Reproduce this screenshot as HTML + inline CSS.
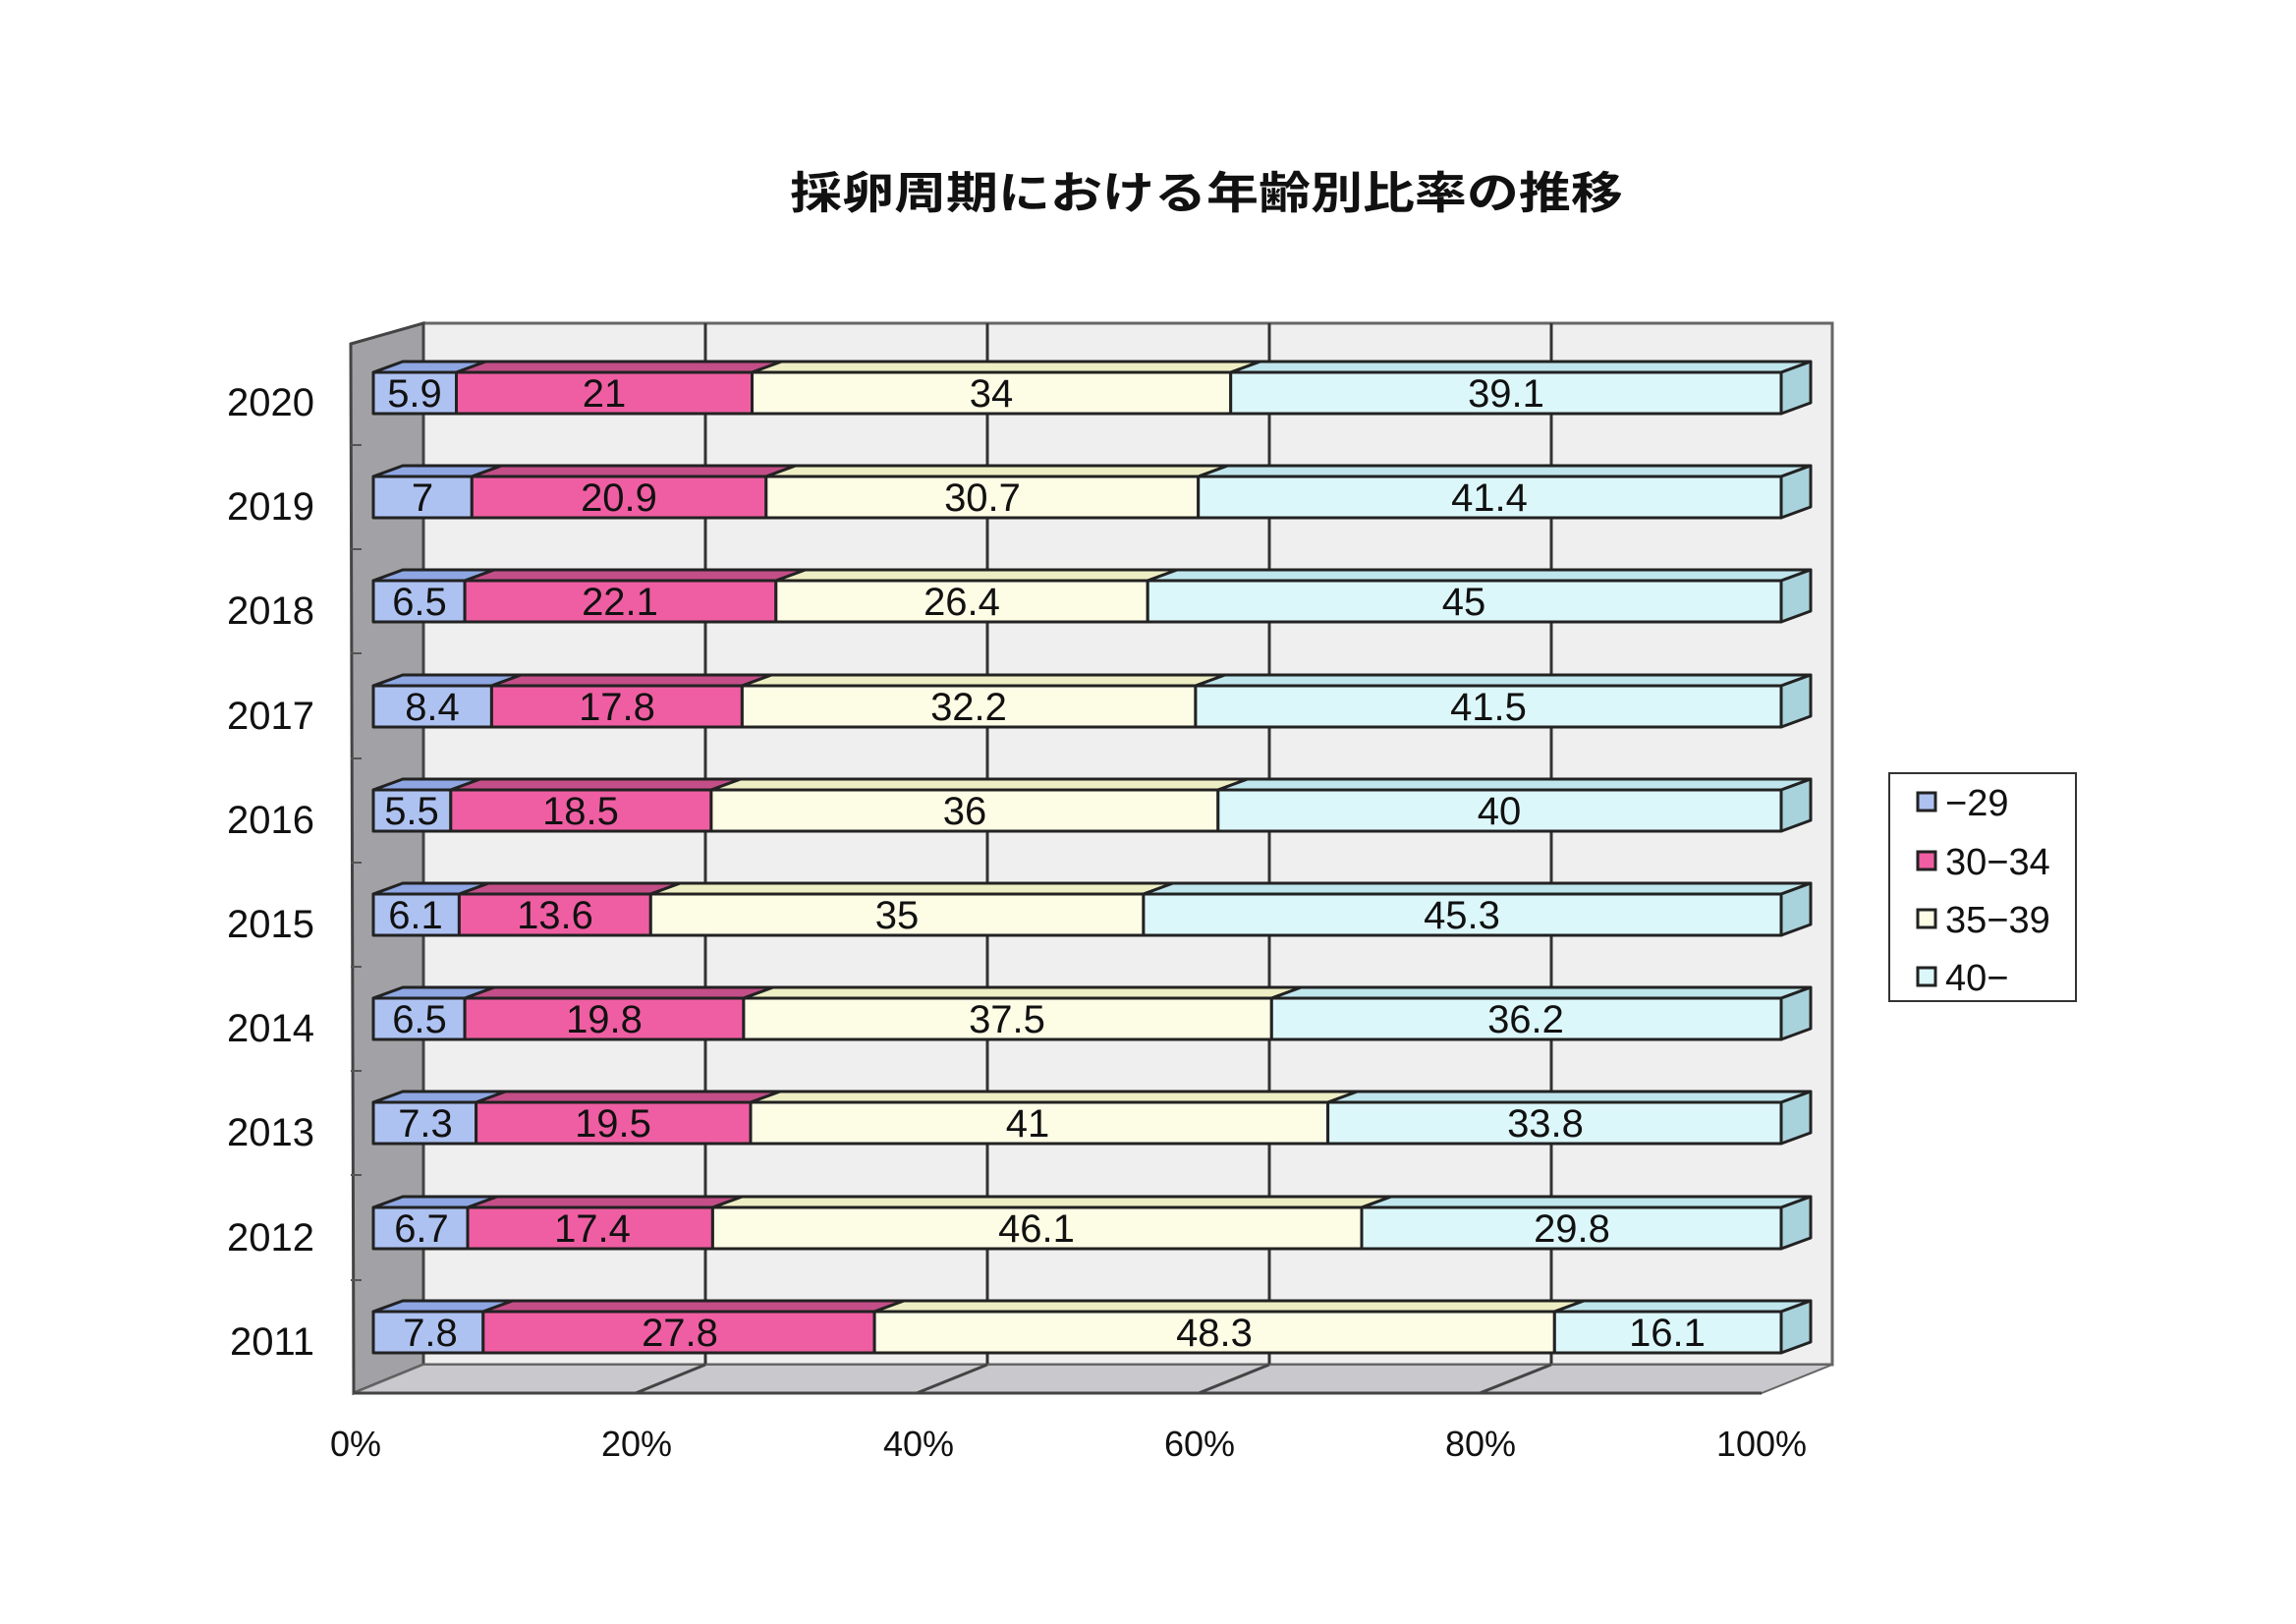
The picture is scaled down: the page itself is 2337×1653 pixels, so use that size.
<!DOCTYPE html>
<html><head><meta charset="utf-8"><style>
html,body{margin:0;padding:0;background:#fff;}
svg{display:block;}
text{font-family:"Liberation Sans","Noto Sans CJK JP",sans-serif;fill:#111;}
.v{font-size:40px;text-anchor:middle;}
.y{font-size:40px;text-anchor:end;}
.t{font-size:36px;text-anchor:middle;}
.s{stroke:#222;stroke-width:3;stroke-linejoin:round;}
.b{fill:#aec2f2}.bt{fill:#8ea6e2}
.p{fill:#ef5ea2}.pt{fill:#c44e88}
.c{fill:#fdfde6}.ct{fill:#eeeec4}
.q{fill:#dcf7fa}.qt{fill:#bfe6ec}.qe{fill:#a9d3dc}
</style></head><body>
<svg width="2337" height="1653" viewBox="0 0 2337 1653" xmlns="http://www.w3.org/2000/svg">
<rect width="2337" height="1653" fill="#fff"/>
<text x="1228" y="212" style="font-size:53px;font-weight:bold;text-anchor:middle;font-family:'Noto Sans CJK JP','Liberation Sans',sans-serif" transform="translate(0,32) scale(1,0.85)">採卵周期における年齢別比率の推移</text>
<!-- back wall -->
<rect x="431" y="329" width="1434" height="1060" fill="#efefef" stroke="#666" stroke-width="3"/>
<g stroke="#333" stroke-width="3">
<line x1="718" y1="329" x2="718" y2="1389"/><line x1="1005" y1="329" x2="1005" y2="1389"/>
<line x1="1292" y1="329" x2="1292" y2="1389"/><line x1="1579" y1="329" x2="1579" y2="1389"/>
</g>
<!-- side wall -->
<polygon points="357,350 431,329 431,1389 360,1418" fill="#a2a2a6" stroke="#444" stroke-width="3"/>
<!-- floor -->
<polygon points="360,1418 431,1389 1865,1389 1793,1418" fill="#c9c9cd" stroke="#666" stroke-width="2"/>
<g stroke="#444" stroke-width="3">
<line x1="647" y1="1418" x2="718" y2="1389"/><line x1="933" y1="1418" x2="1005" y2="1389"/>
<line x1="1220" y1="1418" x2="1292" y2="1389"/><line x1="1506" y1="1418" x2="1579" y2="1389"/>
<line x1="360" y1="1418" x2="1793" y2="1418"/>
</g>
<g stroke="#555" stroke-width="2">
<line x1="357" y1="453" x2="368" y2="453"/><line x1="357" y1="559" x2="368" y2="559"/><line x1="357" y1="665" x2="368" y2="665"/><line x1="357" y1="772" x2="368" y2="772"/><line x1="357" y1="878" x2="368" y2="878"/><line x1="357" y1="984" x2="368" y2="984"/><line x1="357" y1="1090" x2="368" y2="1090"/><line x1="357" y1="1196" x2="368" y2="1196"/><line x1="357" y1="1303" x2="368" y2="1303"/>
</g>

<g transform="translate(0,400)">
<polygon class="s bt" points="380,-21 410,-32 494.5,-32 464.5,-21"/><polygon class="s pt" points="464.5,-21 494.5,-32 795.5,-32 765.5,-21"/><polygon class="s ct" points="765.5,-21 795.5,-32 1282.7,-32 1252.7,-21"/><polygon class="s qt" points="1252.7,-21 1282.7,-32 1843,-32 1813,-21"/>
<rect class="s b" x="380" y="-21" width="84.5" height="42"/><rect class="s p" x="464.5" y="-21" width="301" height="42"/><rect class="s c" x="765.5" y="-21" width="487.2" height="42"/><rect class="s q" x="1252.7" y="-21" width="560.3" height="42"/>
<polygon class="s qe" points="1813,-21 1843,-32 1843,10 1813,21"/>
<text class="v" x="422" y="14">5.9</text><text class="v" x="615" y="14">21</text><text class="v" x="1009" y="14">34</text><text class="v" x="1533" y="14">39.1</text>
<text class="y" x="320" y="23">2020</text></g>

<g transform="translate(0,506)">
<polygon class="s bt" points="380,-21 410,-32 510.3,-32 480.3,-21"/><polygon class="s pt" points="480.3,-21 510.3,-32 809.8,-32 779.8,-21"/><polygon class="s ct" points="779.8,-21 809.8,-32 1249.7,-32 1219.7,-21"/><polygon class="s qt" points="1219.7,-21 1249.7,-32 1843,-32 1813,-21"/>
<rect class="s b" x="380" y="-21" width="100.3" height="42"/><rect class="s p" x="480.3" y="-21" width="299.5" height="42"/><rect class="s c" x="779.8" y="-21" width="439.9" height="42"/><rect class="s q" x="1219.7" y="-21" width="593.3" height="42"/>
<polygon class="s qe" points="1813,-21 1843,-32 1843,10 1813,21"/>
<text class="v" x="430" y="14">7</text><text class="v" x="630" y="14">20.9</text><text class="v" x="1000" y="14">30.7</text><text class="v" x="1516" y="14">41.4</text>
<text class="y" x="320" y="23">2019</text></g>

<g transform="translate(0,612)">
<polygon class="s bt" points="380,-21 410,-32 503.1,-32 473.1,-21"/><polygon class="s pt" points="473.1,-21 503.1,-32 819.8,-32 789.8,-21"/><polygon class="s ct" points="789.8,-21 819.8,-32 1198.2,-32 1168.2,-21"/><polygon class="s qt" points="1168.2,-21 1198.2,-32 1843,-32 1813,-21"/>
<rect class="s b" x="380" y="-21" width="93.1" height="42"/><rect class="s p" x="473.1" y="-21" width="316.7" height="42"/><rect class="s c" x="789.8" y="-21" width="378.4" height="42"/><rect class="s q" x="1168.2" y="-21" width="644.8" height="42"/>
<polygon class="s qe" points="1813,-21 1843,-32 1843,10 1813,21"/>
<text class="v" x="427" y="14">6.5</text><text class="v" x="631" y="14">22.1</text><text class="v" x="979" y="14">26.4</text><text class="v" x="1490" y="14">45</text>
<text class="y" x="320" y="23">2018</text></g>

<g transform="translate(0,719)">
<polygon class="s bt" points="380,-21 410,-32 530.4,-32 500.4,-21"/><polygon class="s pt" points="500.4,-21 530.4,-32 785.4,-32 755.4,-21"/><polygon class="s ct" points="755.4,-21 785.4,-32 1246.9,-32 1216.9,-21"/><polygon class="s qt" points="1216.9,-21 1246.9,-32 1843,-32 1813,-21"/>
<rect class="s b" x="380" y="-21" width="120.4" height="42"/><rect class="s p" x="500.4" y="-21" width="255" height="42"/><rect class="s c" x="755.4" y="-21" width="461.5" height="42"/><rect class="s q" x="1216.9" y="-21" width="596.1" height="42"/>
<polygon class="s qe" points="1813,-21 1843,-32 1843,10 1813,21"/>
<text class="v" x="440" y="14">8.4</text><text class="v" x="628" y="14">17.8</text><text class="v" x="986" y="14">32.2</text><text class="v" x="1515" y="14">41.5</text>
<text class="y" x="320" y="23">2017</text></g>

<g transform="translate(0,825)">
<polygon class="s bt" points="380,-21 410,-32 488.8,-32 458.8,-21"/><polygon class="s pt" points="458.8,-21 488.8,-32 753.9,-32 723.9,-21"/><polygon class="s ct" points="723.9,-21 753.9,-32 1269.8,-32 1239.8,-21"/><polygon class="s qt" points="1239.8,-21 1269.8,-32 1843,-32 1813,-21"/>
<rect class="s b" x="380" y="-21" width="78.8" height="42"/><rect class="s p" x="458.8" y="-21" width="265.1" height="42"/><rect class="s c" x="723.9" y="-21" width="515.9" height="42"/><rect class="s q" x="1239.8" y="-21" width="573.2" height="42"/>
<polygon class="s qe" points="1813,-21 1843,-32 1843,10 1813,21"/>
<text class="v" x="419" y="14">5.5</text><text class="v" x="591" y="14">18.5</text><text class="v" x="982" y="14">36</text><text class="v" x="1526" y="14">40</text>
<text class="y" x="320" y="23">2016</text></g>

<g transform="translate(0,931)">
<polygon class="s bt" points="380,-21 410,-32 497.4,-32 467.4,-21"/><polygon class="s pt" points="467.4,-21 497.4,-32 692.3,-32 662.3,-21"/><polygon class="s ct" points="662.3,-21 692.3,-32 1193.9,-32 1163.9,-21"/><polygon class="s qt" points="1163.9,-21 1193.9,-32 1843,-32 1813,-21"/>
<rect class="s b" x="380" y="-21" width="87.4" height="42"/><rect class="s p" x="467.4" y="-21" width="194.9" height="42"/><rect class="s c" x="662.3" y="-21" width="501.6" height="42"/><rect class="s q" x="1163.9" y="-21" width="649.1" height="42"/>
<polygon class="s qe" points="1813,-21 1843,-32 1843,10 1813,21"/>
<text class="v" x="423" y="14">6.1</text><text class="v" x="565" y="14">13.6</text><text class="v" x="913" y="14">35</text><text class="v" x="1488" y="14">45.3</text>
<text class="y" x="320" y="23">2015</text></g>

<g transform="translate(0,1037)">
<polygon class="s bt" points="380,-21 410,-32 503.1,-32 473.1,-21"/><polygon class="s pt" points="473.1,-21 503.1,-32 786.9,-32 756.9,-21"/><polygon class="s ct" points="756.9,-21 786.9,-32 1324.3,-32 1294.3,-21"/><polygon class="s qt" points="1294.3,-21 1324.3,-32 1843,-32 1813,-21"/>
<rect class="s b" x="380" y="-21" width="93.1" height="42"/><rect class="s p" x="473.1" y="-21" width="283.8" height="42"/><rect class="s c" x="756.9" y="-21" width="537.4" height="42"/><rect class="s q" x="1294.3" y="-21" width="518.7" height="42"/>
<polygon class="s qe" points="1813,-21 1843,-32 1843,10 1813,21"/>
<text class="v" x="427" y="14">6.5</text><text class="v" x="615" y="14">19.8</text><text class="v" x="1025" y="14">37.5</text><text class="v" x="1553" y="14">36.2</text>
<text class="y" x="320" y="23">2014</text></g>

<g transform="translate(0,1143)">
<polygon class="s bt" points="380,-21 410,-32 514.6,-32 484.6,-21"/><polygon class="s pt" points="484.6,-21 514.6,-32 794,-32 764,-21"/><polygon class="s ct" points="764,-21 794,-32 1381.6,-32 1351.6,-21"/><polygon class="s qt" points="1351.6,-21 1381.6,-32 1843,-32 1813,-21"/>
<rect class="s b" x="380" y="-21" width="104.6" height="42"/><rect class="s p" x="484.6" y="-21" width="279.4" height="42"/><rect class="s c" x="764" y="-21" width="587.6" height="42"/><rect class="s q" x="1351.6" y="-21" width="461.4" height="42"/>
<polygon class="s qe" points="1813,-21 1843,-32 1843,10 1813,21"/>
<text class="v" x="433" y="14">7.3</text><text class="v" x="624" y="14">19.5</text><text class="v" x="1046" y="14">41</text><text class="v" x="1573" y="14">33.8</text>
<text class="y" x="320" y="23">2013</text></g>

<g transform="translate(0,1250)">
<polygon class="s bt" points="380,-21 410,-32 506,-32 476,-21"/><polygon class="s pt" points="476,-21 506,-32 755.4,-32 725.4,-21"/><polygon class="s ct" points="725.4,-21 755.4,-32 1416,-32 1386,-21"/><polygon class="s qt" points="1386,-21 1416,-32 1843,-32 1813,-21"/>
<rect class="s b" x="380" y="-21" width="96" height="42"/><rect class="s p" x="476" y="-21" width="249.4" height="42"/><rect class="s c" x="725.4" y="-21" width="660.6" height="42"/><rect class="s q" x="1386" y="-21" width="427" height="42"/>
<polygon class="s qe" points="1813,-21 1843,-32 1843,10 1813,21"/>
<text class="v" x="429" y="14">6.7</text><text class="v" x="603" y="14">17.4</text><text class="v" x="1055" y="14">46.1</text><text class="v" x="1600" y="14">29.8</text>
<text class="y" x="320" y="23">2012</text></g>

<g transform="translate(0,1356)">
<polygon class="s bt" points="380,-21 410,-32 521.8,-32 491.8,-21"/><polygon class="s pt" points="491.8,-21 521.8,-32 920.1,-32 890.1,-21"/><polygon class="s ct" points="890.1,-21 920.1,-32 1612.3,-32 1582.3,-21"/><polygon class="s qt" points="1582.3,-21 1612.3,-32 1843,-32 1813,-21"/>
<rect class="s b" x="380" y="-21" width="111.8" height="42"/><rect class="s p" x="491.8" y="-21" width="398.3" height="42"/><rect class="s c" x="890.1" y="-21" width="692.2" height="42"/><rect class="s q" x="1582.3" y="-21" width="230.7" height="42"/>
<polygon class="s qe" points="1813,-21 1843,-32 1843,10 1813,21"/>
<text class="v" x="438" y="14">7.8</text><text class="v" x="692" y="14">27.8</text><text class="v" x="1236" y="14">48.3</text><text class="v" x="1697" y="14">16.1</text>
<text class="y" x="320" y="23">2011</text></g>

<text class="t" x="362" y="1482">0%</text><text class="t" x="648" y="1482">20%</text><text class="t" x="935" y="1482">40%</text><text class="t" x="1221" y="1482">60%</text><text class="t" x="1507" y="1482">80%</text><text class="t" x="1793" y="1482">100%</text>

<rect x="1923" y="787" width="190" height="232" fill="#fff" stroke="#333" stroke-width="2"/>
<g stroke="#222" stroke-width="3">
<rect x="1952" y="807" width="18" height="18" fill="#aec2f2"/>
<rect x="1952" y="867" width="18" height="18" fill="#ef5ea2"/>
<rect x="1952" y="926" width="18" height="18" fill="#fdfde6"/>
<rect x="1952" y="985" width="18" height="18" fill="#dcf7fa"/>
</g>
<g style="font-size:38px">
<text x="1980" y="830">−29</text><text x="1980" y="890">30−34</text><text x="1980" y="949">35−39</text><text x="1980" y="1008">40−</text>
</g>
</svg>
</body></html>
